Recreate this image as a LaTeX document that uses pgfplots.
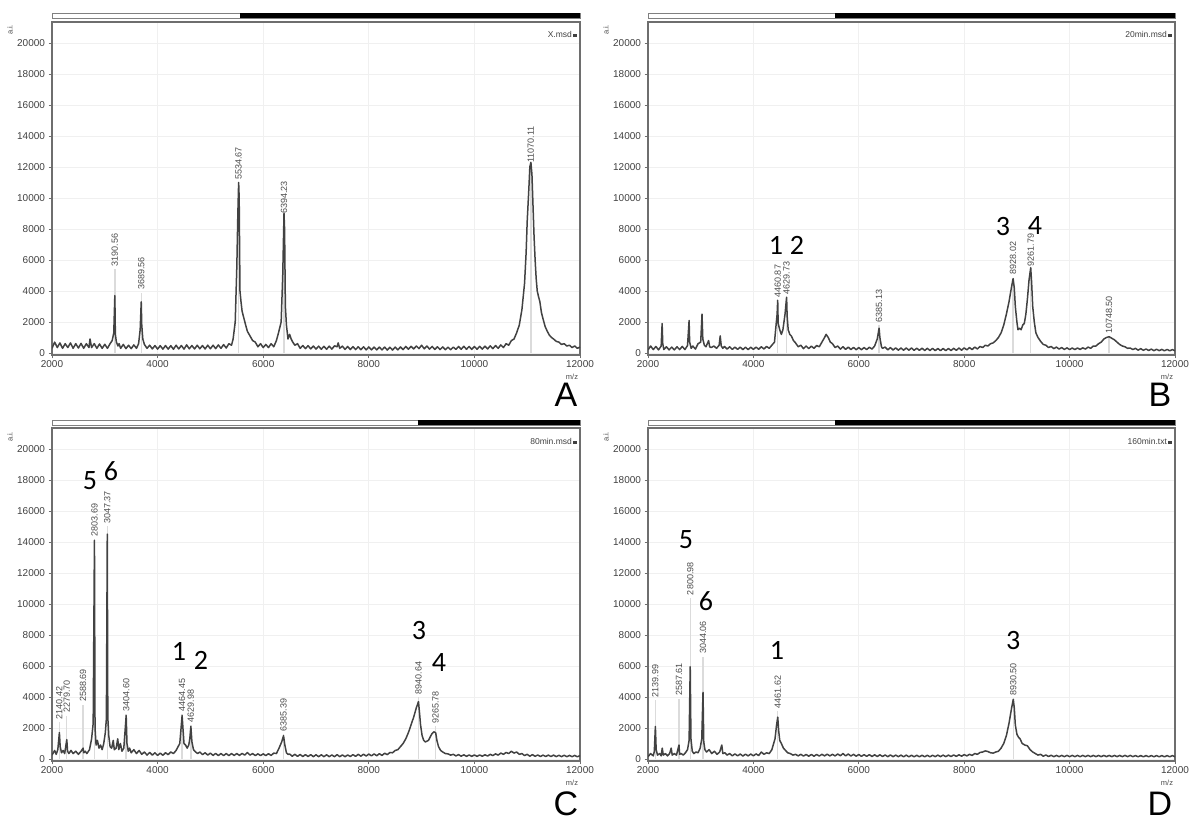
\documentclass[border=0pt]{standalone}
\usepackage{fontspec}
\setmainfont{Liberation Sans}
\newfontfamily\carlito{Carlito}
\usepackage{pgfplots}
\pgfplotsset{compat=1.18}

\definecolor{spec}{HTML}{424242}
\definecolor{axgray}{HTML}{6E6E6E}

\pgfplotsset{
  msd/.style={
    scale only axis, width=528pt, height=333pt, anchor=south west,
    xmin=2000, xmax=12000, ymin=-130, ymax=21350,
    xtick={2000,4000,...,12000}, ytick={0,2000,...,20000},
    grid=major, major grid style={gray!12, line width=0.8pt},
    axis line style={axgray, line width=1.2pt},
    tick align=outside, major tick length=3.5pt,
    tick style={axgray, line width=0.8pt},
    xtick pos=bottom, ytick pos=left,
    tick label style={font=\fontsize{10}{12}\selectfont, text=black!75},
    xticklabel style={inner sep=2pt},
    /pgf/number format/assume math mode=true,
    /pgf/number format/1000 sep={},
    scaled ticks=false,
  },
  spec/.style={color=spec, line width=1.5pt, mark=none, line join=round},
  mkline/.style={color=gray!28, line width=1.4pt, mark=none, forget plot},
}
\tikzset{
  pklab/.style={rotate=90, anchor=west, inner sep=1pt,
    font=\fontsize{9}{10}\selectfont, text=black!70},
  bignum/.style={font=\carlito\fontsize{28}{28}\selectfont},
}
\newcommand{\mk}[2]{\addplot[mkline] coordinates {(#1,0) (#1,#2)};}
\newcommand{\pk}[3]{\node[pklab] at (axis cs:#1,#2) {#3};}
\newcommand{\bnum}[3]{\node[bignum] at (axis cs:#1,#2) {#3};}
\newcommand{\topbar}[4]{%
  \draw[gray, line width=0.8pt] (#1,#4) rectangle (#3,#4+5);
  \fill[black] (#2,#4) rectangle (#3,#4+5);}

\begin{document}
\begin{tikzpicture}[x=1pt,y=1pt]
\useasboundingbox (0,0) rectangle (1200,825);

% ---------------- A ----------------
\begin{axis}[msd, at={(52pt,470pt)}]
\mk{3190}{5400}\mk{3690}{3900}\mk{5535}{11000}\mk{6394}{8800}\mk{11070}{12100}
\addplot[spec] coordinates {
(2000,300)(2050,700)(2100,350)(2150,650)(2200,300)(2250,600)(2300,350)(2350,650)
(2400,300)(2450,600)(2500,320)(2550,620)(2600,300)(2650,600)(2700,350)(2720,900)
(2750,350)(2800,600)(2850,300)(2900,580)(2950,300)(3000,560)(3050,300)(3100,600)
(3140,800)(3170,1300)(3190,3700)(3200,1200)(3220,700)(3250,450)(3270,600)(3300,300)
(3350,550)(3400,280)(3450,500)(3500,280)(3550,520)(3600,300)(3640,600)(3670,1500)
(3690,3300)(3700,1800)(3720,900)(3750,550)(3800,300)(3850,500)(3900,260)(3950,480)
(4000,250)(4050,470)(4100,250)(4150,480)(4200,250)(4250,470)(4300,240)(4350,500)
(4400,260)(4450,480)(4500,250)(4550,520)(4600,270)(4650,480)(4700,260)(4750,500)
(4800,270)(4850,480)(4900,260)(4950,500)(5000,270)(5050,500)(5100,280)(5150,520)
(5200,300)(5250,540)(5300,320)(5350,600)(5400,500)(5430,900)(5470,2000)(5500,5500)
(5520,9000)(5535,11000)(5545,10000)(5560,4000)(5580,3300)(5600,2700)(5630,2300)
(5660,1900)(5700,1400)(5750,1100)(5800,800)(5850,700)(5900,400)(5950,600)(6000,350)
(6050,550)(6100,350)(6150,600)(6200,400)(6250,800)(6290,1300)(6340,2000)(6370,5000)
(6394,9000)(6405,8000)(6420,3000)(6440,1800)(6470,900)(6500,1200)(6530,900)(6560,700)
(6600,500)(6650,600)(6700,300)(6750,480)(6800,280)(6850,470)(6900,260)(6950,450)
(7000,250)(7050,440)(7100,240)(7150,430)(7200,240)(7250,440)(7300,250)(7350,460)
(7400,400)(7420,650)(7450,300)(7500,440)(7550,230)(7600,420)(7650,220)(7700,410)
(7750,220)(7800,400)(7850,210)(7900,400)(7950,200)(8000,390)(8050,200)(8100,380)
(8150,200)(8200,380)(8250,200)(8300,380)(8350,190)(8400,370)(8450,190)(8500,380)
(8550,200)(8600,390)(8650,220)(8700,420)(8750,240)(8800,430)(8850,260)(8900,450)
(8950,280)(9000,500)(9050,270)(9100,450)(9150,250)(9200,420)(9250,230)(9300,400)
(9350,220)(9400,390)(9450,210)(9500,380)(9550,210)(9600,380)(9650,230)(9700,420)
(9750,240)(9800,430)(9850,240)(9900,420)(9950,230)(10000,420)(10050,240)(10100,430)
(10150,250)(10200,440)(10250,260)(10300,460)(10350,280)(10400,480)(10450,300)
(10500,520)(10550,350)(10600,600)(10650,500)(10700,800)(10750,900)(10800,1300)
(10850,1800)(10900,2800)(10950,4500)(10980,6500)(11000,8500)(11030,10500)
(11050,12000)(11070,12300)(11090,11500)(11110,9500)(11130,7500)(11150,6000)
(11170,4800)(11190,4000)(11210,3700)(11240,3300)(11270,2600)(11300,2200)
(11340,1700)(11380,1400)(11420,1150)(11460,1000)(11500,900)(11550,750)(11600,700)
(11650,550)(11700,600)(11750,450)(11800,500)(11850,350)(11900,450)(11950,300)(12000,380)
};
\pk{3190}{5500}{3190.56}\pk{3690}{4000}{3689.56}\pk{5535}{11100}{5534.67}
\pk{6394}{8900}{6394.23}\pk{11070}{12200}{11070.11}
\end{axis}

% ---------------- B ----------------
\begin{axis}[msd, at={(648pt,470pt)}, width=527pt]
\mk{4461}{3300}\mk{4630}{3500}\mk{6385}{1800}\mk{8928}{4800}\mk{9262}{5500}\mk{10748}{1050}
\addplot[spec] coordinates {
(2000,200)(2050,450)(2100,220)(2150,420)(2200,200)(2250,450)(2268,1900)(2280,600)
(2300,220)(2350,400)(2400,200)(2450,380)(2500,200)(2550,400)(2600,220)(2650,420)
(2700,220)(2750,480)(2780,2100)(2790,700)(2820,300)(2850,450)(2900,250)(2950,600)
(3000,700)(3025,2500)(3040,900)(3070,500)(3100,400)(3150,800)(3170,400)(3200,350)
(3250,450)(3300,300)(3350,500)(3370,1100)(3390,450)(3420,300)(3450,420)(3500,250)
(3550,400)(3600,230)(3650,380)(3700,230)(3750,380)(3800,220)(3850,370)(3900,220)
(3950,370)(4000,230)(4050,380)(4100,240)(4150,400)(4200,260)(4250,420)(4300,300)
(4350,500)(4400,700)(4430,1800)(4450,2500)(4461,3400)(4470,1900)(4500,1500)
(4530,1200)(4560,1500)(4600,2500)(4630,3600)(4640,2400)(4660,1500)(4690,1200)
(4720,1100)(4760,800)(4800,650)(4850,400)(4900,500)(4950,280)(5000,450)(5050,280)
(5100,440)(5150,300)(5200,480)(5250,400)(5300,700)(5350,1000)(5380,1200)(5420,1000)
(5460,700)(5500,600)(5550,350)(5600,450)(5650,250)(5700,400)(5750,230)(5800,380)
(5850,220)(5900,360)(5950,210)(6000,350)(6050,210)(6100,350)(6150,220)(6200,370)
(6250,250)(6300,450)(6350,900)(6385,1600)(6400,1000)(6430,400)(6450,300)(6500,380)
(6550,200)(6600,350)(6650,190)(6700,330)(6750,180)(6800,320)(6850,180)(6900,320)
(6950,180)(7000,320)(7050,170)(7100,310)(7150,170)(7200,310)(7250,160)(7300,300)
(7350,160)(7400,300)(7450,150)(7500,290)(7550,150)(7600,290)(7650,150)(7700,290)
(7750,160)(7800,300)(7850,170)(7900,320)(7950,180)(8000,330)(8050,200)(8100,350)
(8150,220)(8200,380)(8250,260)(8300,420)(8350,350)(8400,500)(8450,450)(8500,600)
(8550,650)(8600,800)(8650,1000)(8700,1300)(8750,1800)(8800,2500)(8850,3300)
(8900,4300)(8928,4800)(8950,4200)(8970,3000)(9000,2000)(9020,1500)(9050,1600)
(9080,1500)(9110,1800)(9140,1900)(9170,2500)(9200,3500)(9230,4700)(9262,5500)
(9280,4500)(9300,3000)(9330,2000)(9360,1300)(9400,1000)(9450,750)(9500,550)
(9550,500)(9600,350)(9650,420)(9700,280)(9750,380)(9800,250)(9850,350)(9900,230)
(9950,330)(10000,220)(10050,320)(10100,220)(10150,320)(10200,230)(10250,330)
(10300,250)(10350,380)(10400,300)(10450,450)(10500,450)(10550,600)(10600,700)
(10650,900)(10700,1000)(10750,1050)(10800,950)(10850,850)(10900,700)(10950,550)
(11000,450)(11050,400)(11100,300)(11150,320)(11200,220)(11250,300)(11300,180)
(11350,280)(11400,170)(11450,260)(11500,160)(11550,250)(11600,150)(11650,240)
(11700,150)(11750,230)(11800,140)(11850,230)(11900,140)(11950,220)(12000,140)
};
\pk{4461}{3500}{4460.87}\pk{4630}{3700}{4629.73}\pk{6385}{1900}{6385.13}
\pk{8928}{5000}{8928.02}\pk{9262}{5500}{9261.79}\pk{10748}{1150}{10748.50}
\bnum{4429}{6950}{1}\bnum{4827}{6950}{2}\bnum{8736}{8150}{3}\bnum{9343}{8200}{4}
\end{axis}

% ---------------- C ----------------
\begin{axis}[msd, at={(52pt,64pt)}]
\mk{2140}{2400}\mk{2280}{2800}\mk{2589}{3500}\mk{2804}{14200}\mk{3047}{15000}
\mk{3405}{2900}\mk{4464}{2900}\mk{4630}{2200}\mk{6385}{1600}\mk{8941}{4000}\mk{9266}{2100}
\addplot[spec] coordinates {
(2000,250)(2050,550)(2080,300)(2110,600)(2140,1700)(2155,800)(2180,400)(2210,550)
(2240,350)(2280,1250)(2295,500)(2320,350)(2360,550)(2400,350)(2450,500)(2500,300)
(2550,500)(2589,700)(2600,400)(2630,500)(2660,350)(2710,600)(2750,1300)(2780,2300)
(2804,14100)(2815,2000)(2835,900)(2860,1200)(2890,700)(2920,900)(2950,600)(2980,1000)
(3010,1700)(3030,2600)(3047,14500)(3057,2700)(3075,1500)(3100,800)(3130,700)
(3160,1200)(3180,600)(3215,700)(3245,1300)(3265,600)(3295,1000)(3325,500)(3360,700)
(3405,2800)(3420,1000)(3445,500)(3470,700)(3500,400)(3550,600)(3600,350)(3650,550)
(3700,300)(3750,450)(3800,250)(3850,420)(3900,250)(3950,400)(4000,230)(4050,380)
(4100,240)(4150,400)(4200,280)(4250,450)(4300,350)(4350,550)(4420,1000)(4464,2800)
(4480,2000)(4500,1000)(4530,900)(4560,700)(4590,900)(4610,1300)(4630,2100)
(4650,1100)(4680,600)(4720,450)(4760,350)(4800,450)(4850,280)(4900,400)(4950,250)
(5000,380)(5050,230)(5100,360)(5150,220)(5200,350)(5250,220)(5300,350)(5350,220)
(5400,350)(5450,230)(5500,350)(5550,230)(5600,360)(5650,250)(5700,420)(5750,250)
(5800,350)(5850,220)(5900,330)(5950,220)(6000,330)(6050,220)(6100,340)(6150,230)
(6200,380)(6250,350)(6300,700)(6350,1100)(6385,1500)(6410,900)(6440,400)(6470,300)
(6500,320)(6550,180)(6600,300)(6650,170)(6700,290)(6750,160)(6800,280)(6850,160)
(6900,280)(6950,150)(7000,270)(7050,150)(7100,270)(7150,150)(7200,270)(7250,150)
(7300,260)(7350,150)(7400,280)(7450,150)(7500,260)(7550,150)(7600,260)(7650,160)
(7700,280)(7750,170)(7800,300)(7850,180)(7900,310)(7950,190)(8000,320)(8050,200)
(8100,330)(8150,210)(8200,340)(8250,230)(8300,370)(8350,280)(8400,420)(8450,400)
(8500,550)(8550,600)(8600,800)(8650,1000)(8700,1300)(8750,1700)(8800,2200)
(8850,2700)(8900,3300)(8941,3700)(8960,3000)(8980,2200)(9010,1500)(9040,1200)
(9070,1100)(9100,1150)(9130,1200)(9160,1400)(9190,1600)(9230,1750)(9266,1700)
(9290,1200)(9320,800)(9360,550)(9400,450)(9450,350)(9500,330)(9550,250)(9600,300)
(9650,200)(9700,280)(9750,180)(9800,270)(9850,170)(9900,260)(9950,170)(10000,260)
(10050,170)(10100,260)(10150,180)(10200,270)(10250,190)(10300,300)(10350,220)
(10400,330)(10450,250)(10500,380)(10550,300)(10600,420)(10650,350)(10700,500)
(10750,380)(10800,450)(10850,300)(10900,350)(10950,220)(11000,300)(11050,180)
(11100,280)(11150,170)(11200,260)(11250,160)(11300,250)(11350,160)(11400,250)
(11450,160)(11500,250)(11550,150)(11600,240)(11650,150)(11700,240)(11750,150)
(11800,230)(11850,150)(11900,230)(11950,140)(12000,220)
};
\pk{2140}{2500}{2140.42}\pk{2280}{2900}{2279.70}\pk{2589}{3600}{2588.69}
\pk{2804}{14300}{2803.69}\pk{3047}{15100}{3047.37}\pk{3405}{3000}{3404.60}
\pk{4464}{3000}{4464.45}\pk{4630}{2300}{4629.98}\pk{6385}{1700}{6385.39}
\pk{8941}{4100}{8940.64}\pk{9266}{2200}{9265.78}
\bnum{2720}{17970}{5}\bnum{3117}{18560}{6}\bnum{4405}{6930}{1}\bnum{4822}{6340}{2}
\bnum{8950}{8300}{3}\bnum{9330}{6200}{4}
\end{axis}

% ---------------- D ----------------
\begin{axis}[msd, at={(648pt,64pt)}, width=527pt]
\mk{2140}{3800}\mk{2588}{3900}\mk{2801}{10400}\mk{3044}{6600}\mk{4462}{3100}\mk{8931}{3900}
\addplot[spec] coordinates {
(2000,150)(2050,350)(2100,200)(2120,500)(2140,2100)(2155,600)(2180,250)(2220,350)
(2250,200)(2270,700)(2290,250)(2330,350)(2370,200)(2410,350)(2440,700)(2460,250)
(2500,350)(2540,250)(2588,900)(2600,300)(2630,350)(2670,250)(2710,400)(2750,600)
(2780,1200)(2801,5950)(2815,1300)(2840,500)(2870,350)(2910,450)(2950,400)(2990,700)
(3020,1300)(3044,4300)(3058,1100)(3080,600)(3110,450)(3160,600)(3210,350)(3260,500)
(3310,300)(3360,450)(3400,900)(3420,350)(3460,400)(3500,250)(3550,350)(3600,200)
(3650,330)(3700,200)(3750,320)(3800,190)(3850,310)(3900,200)(3950,320)(4000,200)
(4050,330)(4100,220)(4150,450)(4200,300)(4250,400)(4300,350)(4350,600)(4410,1300)
(4440,2200)(4462,2700)(4480,1800)(4500,1200)(4530,1000)(4570,700)(4610,550)
(4650,400)(4700,350)(4750,250)(4800,300)(4850,200)(4900,300)(4950,190)(5000,290)
(5050,180)(5100,290)(5150,180)(5200,290)(5250,190)(5300,300)(5350,200)(5400,310)
(5450,200)(5500,300)(5550,200)(5600,320)(5650,210)(5700,350)(5750,200)(5800,320)
(5850,190)(5900,300)(5950,180)(6000,290)(6050,170)(6100,280)(6150,170)(6200,280)
(6250,160)(6300,270)(6350,160)(6400,270)(6450,160)(6500,260)(6550,150)(6600,260)
(6650,150)(6700,250)(6750,150)(6800,250)(6850,140)(6900,250)(6950,140)(7000,240)
(7050,140)(7100,240)(7150,140)(7200,240)(7250,140)(7300,240)(7350,140)(7400,240)
(7450,150)(7500,250)(7550,150)(7600,250)(7650,150)(7700,250)(7750,160)(7800,260)
(7850,170)(7900,270)(7950,180)(8000,280)(8050,200)(8100,300)(8150,230)(8200,350)
(8250,300)(8300,420)(8350,450)(8400,520)(8450,480)(8500,400)(8550,380)(8600,450)
(8650,500)(8700,700)(8750,1000)(8800,1500)(8850,2300)(8900,3300)(8931,3850)
(8950,3300)(8970,2200)(9000,1600)(9030,1400)(9060,1300)(9100,1000)(9150,900)
(9200,850)(9250,600)(9300,450)(9350,350)(9400,250)(9450,300)(9500,180)(9550,260)
(9600,160)(9650,240)(9700,150)(9750,230)(9800,150)(9850,230)(9900,150)(9950,230)
(10000,150)(10050,230)(10100,150)(10150,230)(10200,150)(10250,230)(10300,150)
(10350,230)(10400,150)(10450,230)(10500,150)(10550,230)(10600,150)(10650,230)
(10700,150)(10750,230)(10800,150)(10850,230)(10900,150)(10950,230)(11000,150)
(11050,230)(11100,150)(11150,230)(11200,150)(11250,220)(11300,140)(11350,220)
(11400,140)(11450,220)(11500,140)(11550,220)(11600,140)(11650,220)(11700,140)
(11750,220)(11800,140)(11850,220)(11900,140)(11950,220)(12000,140)
};
\pk{2140}{3900}{2139.99}\pk{2588}{4000}{2587.61}\pk{2801}{10500}{2800.98}
\pk{3044}{6700}{3044.06}\pk{4462}{3200}{4461.62}\pk{8931}{4000}{8930.50}
\bnum{2720}{14180}{5}\bnum{3100}{10200}{6}\bnum{4448}{7000}{1}\bnum{8930}{7650}{3}
\end{axis}

% ---------------- frame decorations ----------------
\topbar{52}{240}{580}{807}
\topbar{648}{835}{1175}{807}
\topbar{52}{418}{580}{400}
\topbar{648}{835}{1175}{400}

\tikzset{small/.style={font=\fontsize{7.5}{8}\selectfont, text=black!70, inner sep=0pt}}
\node[small, rotate=90] at (10,795) {a.i.};
\node[small, rotate=90] at (606,795) {a.i.};
\node[small, rotate=90] at (10,388) {a.i.};
\node[small, rotate=90] at (606,388) {a.i.};

\node[small] at (572,448) {m/z};
\node[small] at (1167,448) {m/z};
\node[small] at (572,42) {m/z};
\node[small] at (1167,42) {m/z};

\tikzset{leg/.style={font=\fontsize{8.5}{9}\selectfont, text=black!75, anchor=east, inner sep=0pt}}
\node[leg] at (577,791) {X.msd\,\rule{3.5pt}{3.5pt}};
\node[leg] at (1172,791) {20min.msd\,\rule{3.5pt}{3.5pt}};
\node[leg] at (577,384) {80min.msd\,\rule{3.5pt}{3.5pt}};
\node[leg] at (1172,384) {160min.txt\,\rule{3.5pt}{3.5pt}};

\tikzset{letter/.style={font=\fontsize{34}{34}\selectfont, inner sep=0pt}}
\node[letter] at (566,430) {A};
\node[letter] at (1160,430) {B};
\node[letter] at (566,21) {C};
\node[letter] at (1160,21) {D};
\end{tikzpicture}
\end{document}
